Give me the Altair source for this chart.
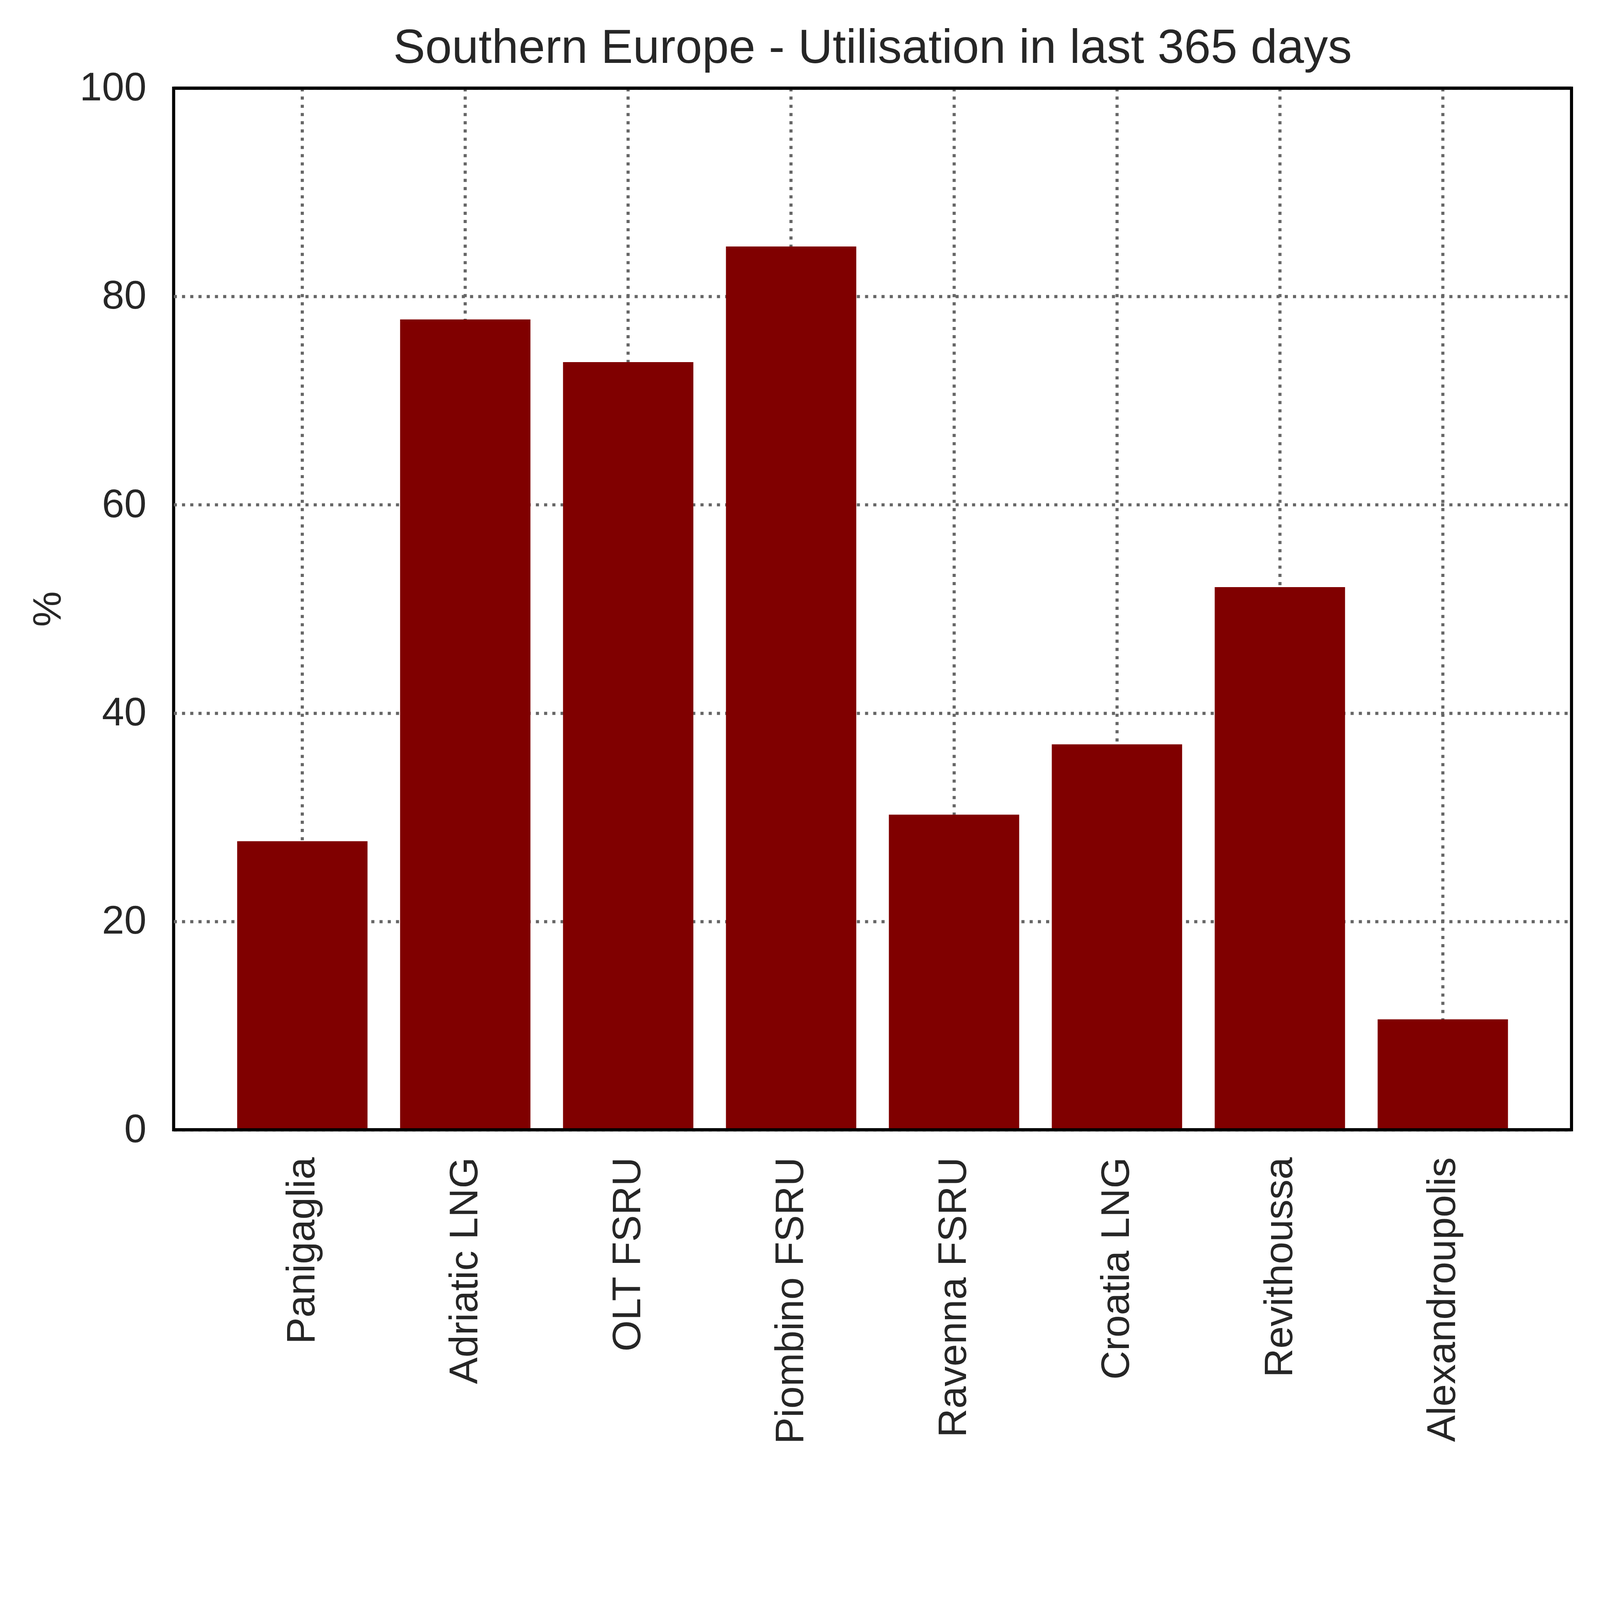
import altair as alt
import pandas as pd

categories = ["Panigaglia", "Adriatic LNG", "OLT FSRU", "Piombino FSRU",
              "Ravenna FSRU", "Croatia LNG", "Revithoussa", "Alexandroupolis"]
utilisation = [27.7, 77.8, 73.7, 84.8, 30.25, 37.0, 52.1, 10.6]
y_ticks = [0, 20, 40, 60, 80, 100]
frame_lines = [0, 100]

df = pd.DataFrame({"terminal": categories, "util": utilisation})
frame_df = pd.DataFrame({"y": frame_lines})

FONT = "Liberation Sans"
TXT = "#262626"
GRID = dict(grid=True, gridColor="#666666", gridWidth=11, gridDash=[11, 18.2], gridOpacity=1)

x_enc = alt.X(
    "terminal:N",
    sort=categories,
    scale=alt.Scale(paddingInner=0.2, paddingOuter=0.39),
    axis=alt.Axis(
        title=None, labelAngle=270, labelFontSize=142, labelFont=FONT,
        labelColor=TXT, labelPadding=97, ticks=False, tickSize=0,
        domain=False, labelLimit=0, bandPosition=0.5, **GRID,
    ),
)
y_enc = alt.Y(
    "util:Q",
    scale=alt.Scale(domain=[0, 100], nice=False),
    axis=alt.Axis(
        values=y_ticks, title="%", labelFontSize=142, labelFont=FONT,
        labelColor=TXT, labelPadding=97, ticks=False, tickSize=0, domain=False,
        labelLimit=0,
        titleFontSize=142, titleFont=FONT, titleColor=TXT, titleFontWeight="normal",
        titleAngle=270, titleX=-445, titleY=1848, titleAlign="center",
        titleBaseline="middle", **GRID,
    ),
)

bars = alt.Chart(df).mark_bar(color="#800000").encode(x=x_enc, y=y_enc)
frame = alt.Chart(frame_df).mark_rule(color="black", strokeWidth=11).encode(
    y=alt.Y("y:Q", scale=alt.Scale(domain=[0, 100], nice=False))
)

chart = alt.layer(bars, frame).properties(
    width=4960,
    height=3696,
    title=alt.TitleParams(
        "Southern Europe - Utilisation in last 365 days",
        fontSize=170, font=FONT, color=TXT, fontWeight="normal",
        anchor="middle", offset=45, dy=62,
    ),
    background="white",
    autosize=alt.AutoSizeParams(type="none"),
    padding={"left": 605, "top": -536, "right": 90, "bottom": 1180},
).configure_view(
    stroke="black", strokeWidth=11
)

chart.save("out.html", embed_options={"renderer": "svg", "actions": False})
